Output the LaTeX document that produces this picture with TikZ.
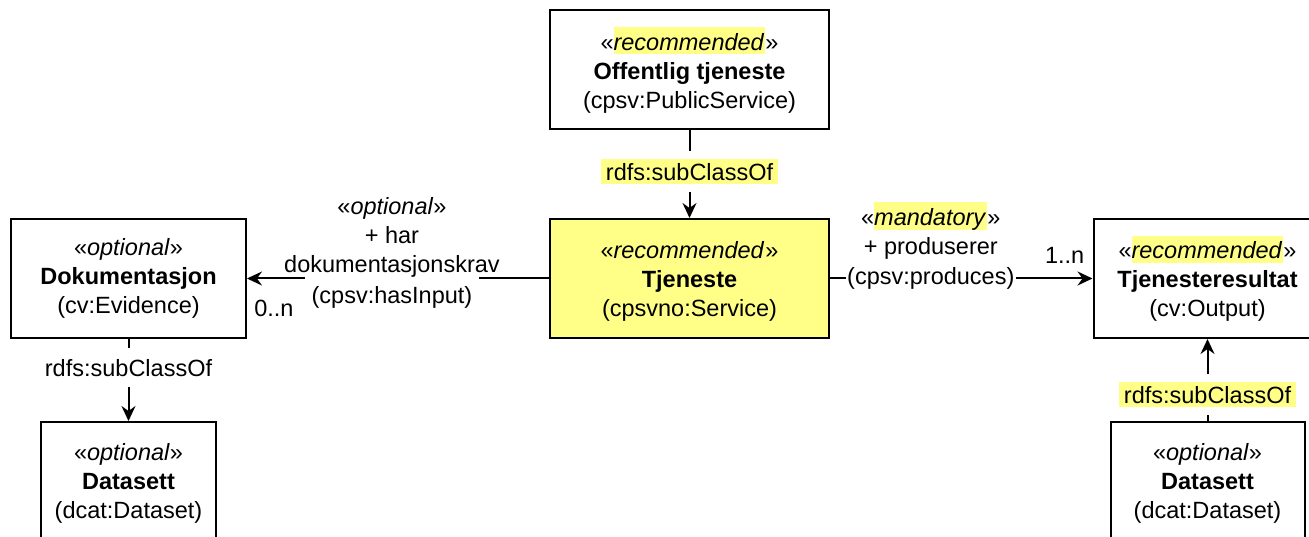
\documentclass[tikz,border=0pt]{standalone}
\usepackage{fontspec}
\setmainfont{Liberation Sans}
\usepackage{xcolor}
\usetikzlibrary{arrows.meta, positioning}
\definecolor{gul}{HTML}{FFFF88}
\newcommand{\merk}[1]{{\setlength{\fboxsep}{0pt}\colorbox{gul}{\rule[-4pt]{0pt}{27pt}#1\kern1pt}}}
\newcommand{\merkpad}[1]{{\setlength{\fboxsep}{0pt}\colorbox{gul}{\kern5pt\rule[-4pt]{0pt}{25pt}#1\kern5pt}}}
\tikzset{
  klasse/.style={draw, line width=2pt, align=center, minimum height=119pt},
  kant/.style={-{Stealth[length=15pt, width=14pt, inset=5pt]}, line width=2pt},
  etikett/.style={fill=white, inner sep=8pt},
}

\begin{document}
\begin{tikzpicture}[x=1pt, y=-1pt, font=\fontsize{23.5}{29}\selectfont]
\useasboundingbox (0,0) rectangle (1309,537);
% Klasser
\node[klasse, minimum width=279pt] (offentlig) at (689.5,70) {«\merk{\textit{recommended}}»\\\textbf{Offentlig tjeneste}\\(cpsv:PublicService)};
\node[klasse, minimum width=279pt, fill=gul] (tjeneste) at (689.5,278.5) {«\merk{\textit{recommended}}»\\\textbf{Tjeneste}\\(cpsvno:Service)};
\node[klasse, minimum width=235pt] (dok) at (128.5,278.5) {«\textit{optional}»\\\textbf{Dokumentasjon}\\(cv:Evidence)};
\node[klasse, minimum width=175pt, minimum height=122pt] (data1) at (128.5,483) {«\textit{optional}»\\\textbf{Datasett}\\(dcat:Dataset)};
\node[klasse, minimum width=228pt] (resultat) at (1207.5,278.5) {«\merk{\textit{recommended}}»\\\textbf{Tjenesteresultat}\\(cv:Output)};
\node[klasse, minimum width=194pt, minimum height=122pt] (data2) at (1207.5,483) {«\textit{optional}»\\\textbf{Datasett}\\(dcat:Dataset)};
% Relasjoner
\path[kant]
(offentlig) edge node[etikett, pos=.47] (sub1) {\merkpad{rdfs:subClassOf}} (tjeneste)
(dok) edge node[etikett, pos=.35, inner ysep=11pt] (sub2) {rdfs:subClassOf} (data1)
(data2) edge node[etikett, pos=.32, inner ysep=8pt] (sub3) {\merkpad{rdfs:subClassOf}} (resultat)
(tjeneste) edge node[etikett, pos=.52, yshift=-18.5pt, inner xsep=7pt, inner ysep=9pt] (inn) {(cpsv:hasInput)}
  node[pos=.911, anchor=north, yshift=-21pt, inner sep=0pt] (n0) {0..n} (dok)
(tjeneste) edge node[etikett, pos=.384, inner xsep=1.5pt, inner ysep=4pt] (prod) {(cpsv:produces)}
  node[pos=.894, anchor=south, yshift=13.5pt, inner sep=0pt] (n1) {1..n} (resultat);
\node[above=-2pt of inn, align=center, inner sep=0pt] (innnavn) {«\textit{optional}»\\+ har\\dokumentasjonskrav};
\node[above=3pt of prod, align=center, inner sep=0pt] (prodnavn) {«\merk{\textit{mandatory}}»\\+ produserer};
\end{tikzpicture}
\end{document}
